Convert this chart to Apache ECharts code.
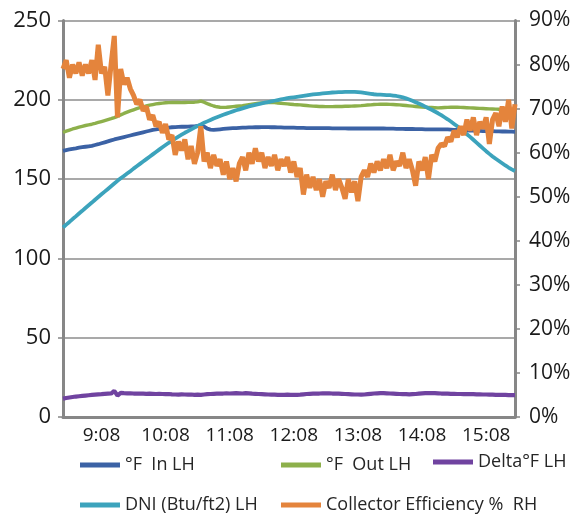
<!DOCTYPE html>
<html>
<head>
<meta charset="utf-8">
<script src="https://cdn.jsdelivr.net/npm/echarts@6/dist/echarts.min.js"></script>
<style>
html,body{margin:0;padding:0;background:#fff;}
#chart{width:574px;height:519px;}
</style>
</head>
<body>
<div id="chart"></div>
<script>
var categories = [
"8:32","8:35","8:38","8:41","8:44","8:47","8:50","8:53","8:56","8:59",
"9:02","9:05","9:08","9:11","9:14","9:17","9:20","9:23","9:26","9:29",
"9:32","9:35","9:38","9:41","9:44","9:47","9:50","9:53","9:56","9:59",
"10:02","10:05","10:08","10:11","10:14","10:17","10:20","10:23","10:26","10:29",
"10:32","10:35","10:38","10:41","10:44","10:47","10:50","10:53","10:56","10:59",
"11:02","11:05","11:08","11:11","11:14","11:17","11:20","11:23","11:26","11:29",
"11:32","11:35","11:38","11:41","11:44","11:47","11:50","11:53","11:56","11:59",
"12:02","12:05","12:08","12:11","12:14","12:17","12:20","12:23","12:26","12:29",
"12:32","12:35","12:38","12:41","12:44","12:47","12:50","12:53","12:56","12:59",
"13:02","13:05","13:08","13:11","13:14","13:17","13:20","13:23","13:26","13:29",
"13:32","13:35","13:38","13:41","13:44","13:47","13:50","13:53","13:56","13:59",
"14:02","14:05","14:08","14:11","14:14","14:17","14:20","14:23","14:26","14:29",
"14:32","14:35","14:38","14:41","14:44","14:47","14:50","14:53","14:56","14:59",
"15:02","15:05","15:08","15:11","15:14","15:17","15:20","15:23","15:26","15:29",
"15:32","15:35"
];

var seriesNames = ["°F  In LH", "°F  Out LH", "Delta°F LH", "DNI (Btu/ft2) LH", "Collector Efficiency %  RH"];
var leftTicks = [0, 50, 100, 150, 200, 250];
var rightTicks = [0, 10, 20, 30, 40, 50, 60, 70, 80, 90];

var tempIn = [
167.8,168.3,168.7,169.1,169.4,169.8,170.1,170.4,170.7,171.0,
171.5,172.0,172.6,173.2,173.8,174.4,175.0,175.5,176.0,176.5,
177.0,177.5,178.0,178.5,179.0,179.5,180.0,180.5,181.0,181.3,
181.7,182.0,182.3,182.5,182.7,182.8,182.9,183.0,183.0,183.1,
183.2,183.3,183.6,183.9,183.2,181.8,181.2,181.0,181.2,181.4,
181.6,181.8,182.0,182.1,182.2,182.3,182.4,182.5,182.6,182.6,
182.7,182.7,182.8,182.8,182.8,182.7,182.7,182.6,182.6,182.5,
182.5,182.4,182.4,182.3,182.3,182.3,182.2,182.2,182.2,182.2,
182.1,182.1,182.1,182.1,182.0,182.0,182.0,182.0,182.0,181.9,
181.9,181.9,181.9,181.9,181.9,181.9,181.9,181.9,181.9,181.9,
181.9,181.8,181.8,181.8,181.7,181.7,181.7,181.6,181.6,181.6,
181.5,181.5,181.5,181.4,181.4,181.4,181.3,181.3,181.3,181.3,
181.3,181.2,181.1,181.0,180.9,180.8,180.7,180.6,180.5,180.4,
180.4,180.3,180.3,180.2,180.2,180.1,180.1,180.0,180.0,179.9,
179.9,179.8
];

var tempOut = [
179.4,180.2,180.9,181.6,182.2,182.8,183.3,183.8,184.2,184.6,
185.1,185.7,186.3,186.9,187.5,188.1,188.8,189.6,190.5,191.4,
192.2,193.0,193.7,194.4,195.0,195.6,196.1,196.6,197.0,197.4,
197.7,197.9,198.1,198.2,198.3,198.3,198.3,198.2,198.3,198.4,
198.4,198.5,198.7,199.2,198.5,197.6,196.8,196.1,195.6,195.3,
195.2,195.3,195.5,195.7,195.9,196.1,196.3,196.6,196.9,197.2,
197.5,197.8,198.0,198.2,198.3,198.3,198.2,198.0,197.8,197.6,
197.4,197.2,197.0,196.9,196.8,196.6,196.4,196.2,196.0,195.9,
195.8,195.8,195.7,195.7,195.7,195.8,195.8,195.8,195.9,195.9,
196.0,196.1,196.2,196.3,196.5,196.7,196.8,197.0,197.1,197.2,
197.2,197.2,197.1,197.0,196.9,196.8,196.6,196.4,196.2,196.0,
195.8,195.6,195.4,195.3,195.2,195.1,195.0,194.9,195.0,195.1,
195.2,195.3,195.3,195.3,195.2,195.1,195.0,194.9,194.8,194.7,
194.6,194.5,194.4,194.3,194.2,194.1,194.0,193.9,193.8,193.8,
193.7,193.7
];

var deltaT = [
11.6,12.0,12.3,12.6,12.9,13.1,13.3,13.5,13.7,13.9,
14.1,14.3,14.4,14.6,14.7,14.8,16.5,13.5,15.2,15.0,
14.9,14.9,14.8,14.8,14.7,14.7,14.6,14.7,14.6,14.5,
14.6,14.5,14.4,14.5,14.3,14.2,14.1,14.3,14.2,14.1,
14.2,14.0,14.1,14.0,14.2,14.4,14.5,14.6,14.7,14.8,
14.8,14.9,14.8,14.9,15.0,14.9,14.8,15.1,14.9,14.7,
14.6,14.5,14.4,14.3,14.2,14.1,14.1,14.0,14.0,14.0,
14.1,14.0,13.9,14.0,14.1,14.3,14.5,14.6,14.7,14.8,
14.8,14.9,14.9,14.9,14.8,14.8,14.7,14.6,14.5,14.4,
14.3,14.2,14.2,14.1,14.2,14.4,14.6,14.8,14.9,15.0,
15.0,14.9,14.8,14.7,14.6,14.5,14.4,14.4,14.3,14.4,
14.5,14.7,14.9,15.0,15.1,15.0,15.0,14.9,14.8,14.8,
14.7,14.6,14.6,14.5,14.5,14.4,14.5,14.4,14.4,14.3,
14.3,14.2,14.2,14.1,14.1,14.0,14.0,13.9,13.9,13.8,
13.8,13.8
];

var dni = [
119.5,121.3,123.0,124.8,126.5,128.3,130.0,131.8,133.5,135.2,
137.0,138.7,140.4,142.1,143.8,145.5,147.2,148.9,150.5,152.0,
153.5,155.0,156.6,158.1,159.6,161.1,162.6,164.1,165.6,167.1,
168.6,170.1,171.5,172.9,174.2,175.5,176.8,178.0,179.2,180.3,
181.4,182.5,183.5,184.5,185.5,186.4,187.3,188.2,189.0,189.8,
190.6,191.3,192.0,192.7,193.4,194.0,194.6,195.2,195.8,196.3,
196.8,197.3,197.8,198.2,198.6,199.0,199.4,199.8,200.2,200.6,
201.0,201.3,201.6,201.9,202.2,202.5,202.8,203.1,203.4,203.6,
203.8,204.0,204.2,204.4,204.6,204.7,204.8,204.9,205.0,205.0,
205.0,205.0,204.9,204.7,204.4,204.1,203.8,203.5,203.3,203.2,
203.1,203.0,202.9,202.7,202.4,202.0,201.5,200.9,200.2,199.4,
198.5,197.6,196.7,195.7,194.7,193.7,192.6,191.5,190.3,189.0,
187.7,186.3,184.8,183.3,181.7,180.0,178.3,176.6,174.8,173.0,
171.2,169.4,167.6,165.9,164.3,162.8,161.4,160.0,158.6,157.3,
156.1,155.0
];

var efficiency = [
79,81,77,80,78,80.5,77.5,80,78,81,
76.5,84.5,78,79.5,73,80,86.5,68,79,75.5,
77,74.5,73,71,72,69.5,70.5,67.5,68.5,66,
67,64.5,66.5,63,64,59.5,62.5,60.5,63,58.5,
61.5,57.5,60,66,58,60,56.5,59.5,57,58.5,
55,58,54,56.5,53.5,57.5,59,56,60,57.5,
61,58,60,56.5,59,57,59.5,56,58.5,57,
59,55.5,58,54.5,56.5,50.5,55,52,54.5,51.5,
54,50,53.5,52,55,51.5,54,52,49.5,54,
51,53.5,49,54.5,56,54.5,57.5,55.5,58,56,
58.5,56.5,59.5,56,58,57,60,56.5,58.5,56,
52.5,58,56,59,54,59.5,58,61,62,61.5,
63.5,62.5,65,63.5,66,64,67.5,65,68,64,
67,65.5,68,62,67.5,69,66,70.5,67,72,
65.5,71
];

var FONT = "'Open Sans', 'Noto Sans', sans-serif";
var chart = echarts.init(document.getElementById('chart'), null, {renderer: 'canvas'});

function legendItem(name, left, top) {
  return {
    data: [name], left: left, top: top, padding: 0,
    icon: 'rect', itemWidth: 40, itemHeight: 5, itemGap: 0,
    selectedMode: false,
    textStyle: {fontFamily: FONT, fontSize: 18, color: '#262626', lineHeight: 20}
  };
}

var option = {
  animation: false,
  backgroundColor: '#ffffff',
  grid: {left: 63, right: 59, top: 20.5, bottom: 102, containLabel: false},
  legend: [
    legendItem(seriesNames[0], 80, 455),
    legendItem(seriesNames[1], 281, 455),
    legendItem(seriesNames[2], 433, 452),
    legendItem(seriesNames[3], 80, 495),
    legendItem(seriesNames[4], 281, 495)
  ],
  xAxis: {
    type: 'category',
    data: categories,
    boundaryGap: false,
    axisLine: {show: true, lineStyle: {color: '#878787', width: 3}},
    axisTick: {show: false},
    splitLine: {show: false},
    axisLabel: {
      interval: function (index) { return index % 20 === 12; },
      fontFamily: FONT, fontSize: 19, color: '#1a1a1a', margin: 9
    }
  },
  yAxis: [
    {
      type: 'value', min: leftTicks[0], max: leftTicks[leftTicks.length - 1], interval: leftTicks[1] - leftTicks[0],
      position: 'left',
      axisLine: {show: true, lineStyle: {color: '#878787', width: 3}},
      axisTick: {show: true, inside: false, length: 5, lineStyle: {color: '#878787', width: 1.5}},
      splitLine: {show: true, lineStyle: {color: '#8c8c8c', width: 1.5}},
      axisLabel: {fontFamily: FONT, fontSize: 22, color: '#1a1a1a', margin: 12}
    },
    {
      type: 'value', min: rightTicks[0], max: rightTicks[rightTicks.length - 1], interval: rightTicks[1] - rightTicks[0],
      position: 'right',
      axisLine: {show: true, lineStyle: {color: '#878787', width: 3}},
      axisTick: {show: true, inside: false, length: 5, lineStyle: {color: '#878787', width: 1.5}},
      splitLine: {show: false},
      axisLabel: {fontFamily: FONT, fontSize: 21, color: '#1a1a1a', margin: 14, formatter: '{value}%'}
    }
  ],
  series: [
    {name: seriesNames[0], type: 'line', yAxisIndex: 0, data: tempIn, showSymbol: false, symbol: 'none',
     color: '#3B62A5', lineStyle: {width: 3.8, color: '#3B62A5'}},
    {name: seriesNames[1], type: 'line', yAxisIndex: 0, data: tempOut, showSymbol: false, symbol: 'none',
     color: '#8DB04B', lineStyle: {width: 3.4, color: '#8DB04B'}},
    {name: seriesNames[2], type: 'line', yAxisIndex: 0, data: deltaT, showSymbol: false, symbol: 'none',
     color: '#7043A0', lineStyle: {width: 4.2, color: '#7043A0'}},
    {name: seriesNames[3], type: 'line', yAxisIndex: 0, data: dni, showSymbol: false, symbol: 'none',
     color: '#3CA3BC', lineStyle: {width: 3.8, color: '#3CA3BC'}},
    {name: seriesNames[4], type: 'line', yAxisIndex: 1, data: efficiency, showSymbol: false, symbol: 'none',
     color: '#E4843C', lineStyle: {width: 5, color: '#E4843C'}}
  ]
};
chart.setOption(option);
</script>
</body>
</html>
